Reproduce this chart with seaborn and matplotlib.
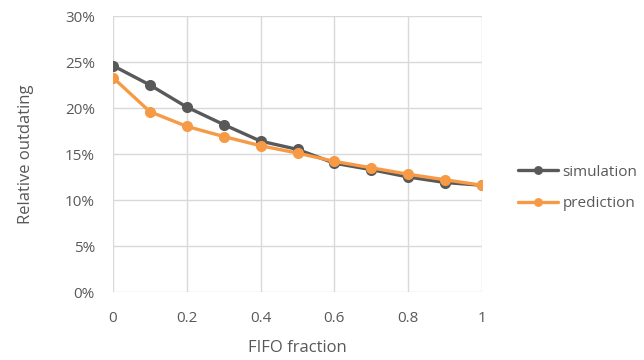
import matplotlib
matplotlib.use("Agg")
import matplotlib.pyplot as plt
import seaborn as sns
import pandas as pd
from matplotlib.ticker import FuncFormatter, MultipleLocator

# FIFO fraction on the x axis
fifo_fraction = [0.0, 0.1, 0.2, 0.3, 0.4, 0.5, 0.6, 0.7, 0.8, 0.9, 1.0]
# Relative outdating (%)
simulation = [24.6, 22.5, 20.1, 18.2, 16.4, 15.5, 14.0, 13.3, 12.5, 11.9, 11.6]
prediction = [23.3, 19.6, 18.0, 16.9, 15.9, 15.1, 14.2, 13.5, 12.8, 12.2, 11.6]

series_names = ["simulation", "prediction"]
series_colors = {"simulation": "#595959", "prediction": "#F79A45"}

df = pd.concat([
    pd.DataFrame({"x": fifo_fraction, "y": simulation, "series": "simulation"}),
    pd.DataFrame({"x": fifo_fraction, "y": prediction, "series": "prediction"}),
])

sns.set_theme(style="white")
plt.rcParams["font.family"] = ["Open Sans", "DejaVu Sans"]

fig = plt.figure(figsize=(6.44, 3.6), dpi=100)
ax = fig.add_axes([113 / 644, 1 - 292 / 360, (482 - 113) / 644, (292 - 16) / 360])

sns.lineplot(data=df, x="x", y="y", hue="series", hue_order=series_names,
             palette=series_colors, marker="o", markersize=8, linewidth=2.4,
             markeredgewidth=0, ax=ax, zorder=3)

ax.set_xlim(0, 1)
ax.set_ylim(0, 30)
ax.xaxis.set_major_locator(MultipleLocator(0.2))
ax.yaxis.set_major_locator(MultipleLocator(5))
ax.xaxis.set_major_formatter(FuncFormatter(lambda v, p: "0" if v == 0 else ("1" if abs(v - 1) < 1e-9 else f"{v:.1f}")))
ax.yaxis.set_major_formatter(FuncFormatter(lambda v, p: f"{v:.0f}%"))
ax.grid(True, color="#D9D9D9", linewidth=1.0)
ax.set_axisbelow(True)
for s in ax.spines.values():
    s.set_visible(False)
ax.tick_params(axis="both", length=0, colors="#595959", labelsize=11)
ax.tick_params(axis="x", pad=14)
ax.tick_params(axis="y", pad=13)

ax.set_xlabel("FIFO fraction", fontsize=12, color="#595959", labelpad=10)
ax.set_ylabel("Relative outdating", fontsize=12, color="#595959", labelpad=22)

handles, labels = ax.get_legend_handles_labels()
ax.legend(handles, labels, loc="center left", bbox_to_anchor=(512 / 644, 1 - 188 / 360),
          bbox_transform=fig.transFigure, frameon=False, fontsize=11,
          labelcolor="#595959", handlelength=2.6, handletextpad=0.3,
          labelspacing=1.1, borderaxespad=0, markerscale=0.8)

fig.savefig("out.png", dpi=100)
